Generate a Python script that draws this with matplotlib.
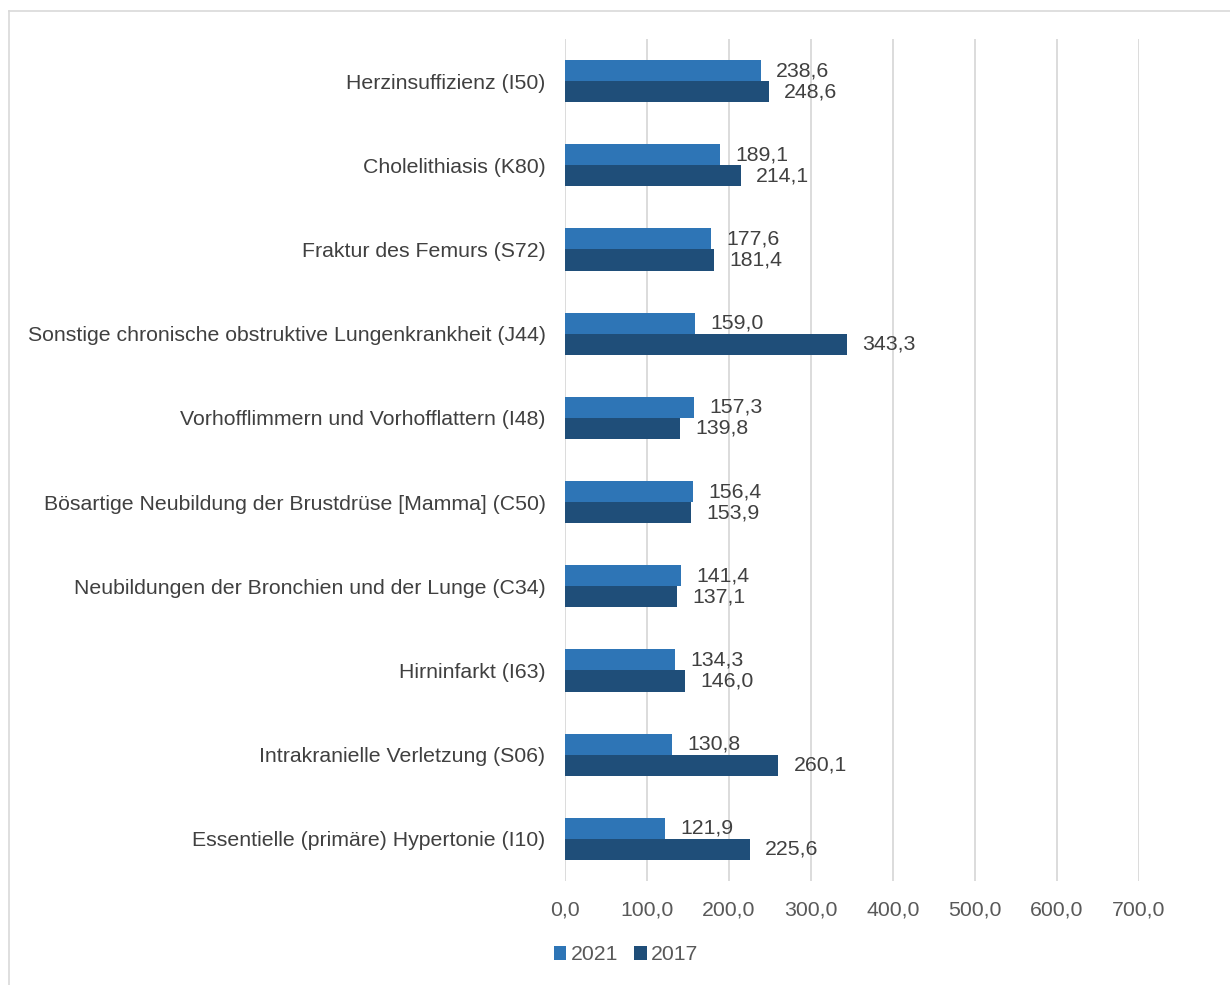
import numpy as np
import matplotlib.pyplot as plt
from matplotlib.lines import Line2D

plt.rcParams['font.family'] = ['Liberation Sans', 'DejaVu Sans']

diagnosen = [
    'Herzinsuffizienz (I50)',
    'Cholelithiasis (K80)',
    'Fraktur des Femurs (S72)',
    'Sonstige chronische obstruktive Lungenkrankheit (J44)',
    'Vorhofflimmern und Vorhofflattern (I48)',
    'Bösartige Neubildung der Brustdrüse [Mamma] (C50)',
    'Neubildungen der Bronchien und der Lunge (C34)',
    'Hirninfarkt (I63)',
    'Intrakranielle Verletzung (S06)',
    'Essentielle (primäre) Hypertonie (I10)',
]
werte_2021 = [238.6, 189.1, 177.6, 159.0, 157.3, 156.4, 141.4, 134.3, 130.8, 121.9]
werte_2017 = [248.6, 214.1, 181.4, 343.3, 139.8, 153.9, 137.1, 146.0, 260.1, 225.6]
x_ticks = [0, 100, 200, 300, 400, 500, 600, 700]

c2021 = '#2E75B6'
c2017 = '#1F4E79'
grau = '#595959'
fs = 15.3

fig = plt.figure(figsize=(12.3, 9.85), dpi=100)
ax = fig.add_axes([565 / 1230, 1 - 881 / 985, (1139 - 565) / 1230, (881 - 39) / 985])

y = np.arange(len(diagnosen))
h = 0.25
b1 = ax.barh(y - h / 2, werte_2021, height=h, color=c2021, label='2021', zorder=3)
b2 = ax.barh(y + h / 2, werte_2017, height=h, color=c2017, label='2017', zorder=3)

def fmt(v):
    return f'{v:.1f}'.replace('.', ',')

for bars, vals in ((b1, werte_2021), (b2, werte_2017)):
    for rect, v in zip(bars, vals):
        ax.annotate(fmt(v), (v, rect.get_y() + rect.get_height() / 2),
                    xytext=(11, 0), textcoords='offset points',
                    va='center', ha='left', fontsize=fs, color='#404040')

ax.set_xlim(0, 700)
ax.set_ylim(len(diagnosen) - 0.5, -0.5)
ax.set_yticks(y)
ax.set_yticklabels(diagnosen, fontsize=fs, color='#404040')
ax.set_xticks(x_ticks)
ax.set_xticklabels([fmt(t) for t in x_ticks], fontsize=fs, color=grau)
ax.tick_params(axis='both', length=0)
ax.tick_params(axis='y', pad=14)
ax.tick_params(axis='x', pad=14)
ax.grid(axis='x', color='#D9D9D9', linewidth=1.3, zorder=0)
for s in ax.spines.values():
    s.set_visible(False)

ax.legend(handles=[b1, b2], loc='center', bbox_to_anchor=(626 / 1230, 1 - 955 / 985),
          bbox_transform=fig.transFigure, ncol=2, frameon=False, fontsize=fs,
          handlelength=0.6, handleheight=0.6, handletextpad=0.2, columnspacing=0.75,
          labelcolor=grau)

# outer frame
fig.add_artist(Line2D([8.5 / 1230, 8.5 / 1230], [0, 1 - 10.5 / 985],
                      transform=fig.transFigure, color='#D9D9D9', linewidth=1.2))
fig.add_artist(Line2D([8.5 / 1230, 1], [1 - 10.5 / 985, 1 - 10.5 / 985],
                      transform=fig.transFigure, color='#D9D9D9', linewidth=1.2))

fig.savefig('out.png', dpi=100)
